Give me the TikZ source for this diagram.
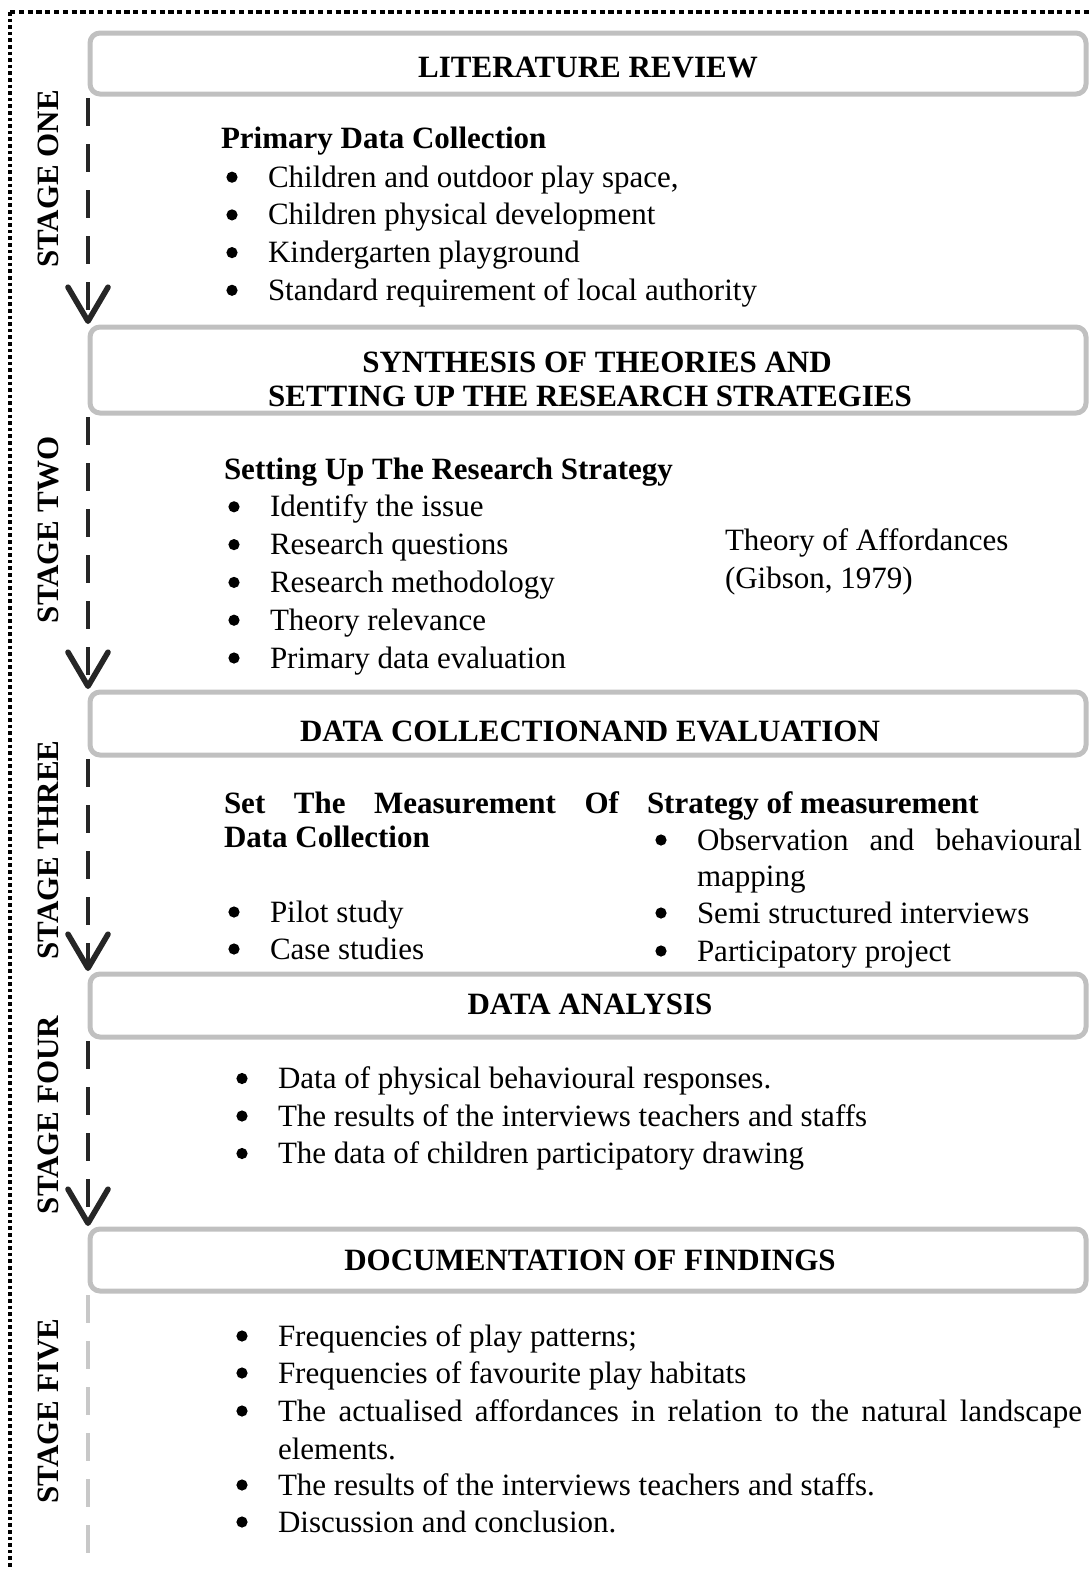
\documentclass[tikz,border=0pt]{standalone}
\usepackage{fontspec}
\setmainfont{Liberation Serif}
\usetikzlibrary{arrows.meta}

\definecolor{boxgray}{HTML}{C0C0C0}
\definecolor{linedark}{HTML}{262626}
\definecolor{linelight}{HTML}{C8C8C8}

\begin{document}
\begin{tikzpicture}[x=0.5pt, y=-0.5pt,
    every node/.style={inner sep=0pt, outer sep=0pt, font=\fontsize{15.5}{19}\selectfont},
    stagebox/.style={draw=boxgray, line width=2.5pt, rounded corners=5pt, minimum width=498pt},
    stageline/.style={draw=linedark, line width=2.2pt, dash pattern=on 14pt off 9pt,
        shorten <=2pt, shorten >=1.5pt, -{Straight Barb[length=17pt, width=20pt, line width=2.8pt, round]}},
    lastline/.style={draw=linelight, line width=2.2pt, dash pattern=on 14pt off 9pt, shorten <=2pt},
    stagelabel/.style={rotate=90, font=\fontsize{15.5}{19}\selectfont\bfseries},
    heading/.style={anchor=base, font=\fontsize{15.5}{19}\selectfont\bfseries},
    title/.style={anchor=base west, font=\fontsize{15.5}{19}\selectfont\bfseries},
    txt/.style={anchor=base west},
    dot/.style={radius=2.8pt}]

    \useasboundingbox (0,0) rectangle (1091,1570);
    \clip (0,0) rectangle (1091,1570);

    % outer frame
    \draw[line width=1.6pt, dash pattern=on 2.6pt off 1.8pt] (10,12) -- (1100,12);
    \draw[line width=1.6pt, dash pattern=on 1.8pt off 1.5pt] (10,12) -- (10,1600);

    % stage boxes
    \node[stagebox, minimum height=30.5pt] (box1) at (588,63.5) {};
    \node[stagebox, minimum height=43pt] (box2) at (588,370) {};
    \node[stagebox, minimum height=31.5pt] (box3) at (588,723.5) {};
    \node[stagebox, minimum height=31.5pt] (box4) at (588,1005.5) {};
    \node[stagebox, minimum height=31pt] (box5) at (588,1260) {};
    \coordinate (end5) at (90,1600);

    \draw[stageline] ([xshift=-1pt]box1.south west) -- ([xshift=-1pt]box2.north west);
    \draw[stageline] ([xshift=-1pt]box2.south west) -- ([xshift=-1pt]box3.north west);
    \draw[stageline] ([xshift=-1pt]box3.south west) -- ([xshift=-1pt]box4.north west);
    \draw[stageline] ([xshift=-1pt]box4.south west) -- ([xshift=-1pt]box5.north west);
    \draw[lastline] ([xshift=-1pt]box5.south west) -- ([xshift=-1pt]end5);

    % stage names
    \node[stagelabel] (lab1) at (48,179) {STAGE ONE};
    \node[stagelabel] (lab2) at (48,530) {STAGE TWO};
    \node[stagelabel] (lab3) at (48,850) {STAGE THREE};
    \node[stagelabel] (lab4) at (48,1115) {STAGE FOUR};
    \node[stagelabel] (lab5) at (48,1411) {STAGE FIVE};

    % headings
    \node[heading] (head1) at (588,77) {LITERATURE REVIEW};
    \node[heading] (head2a) at (597,372) {SYNTHESIS OF THEORIES AND};
    \node[heading] (head2b) at (590,406) {SETTING UP THE RESEARCH STRATEGIES};
    \node[heading] (head3) at (590,741) {DATA COLLECTIONAND EVALUATION};
    \node[heading] (head4) at (590,1014) {DATA ANALYSIS};
    \node[heading] (head5) at (590,1270) {DOCUMENTATION OF FINDINGS};

    % stage one
    \node[title] (t1) at (221,148) {Primary Data Collection};
    \foreach \t [count=\i] in {{Children and outdoor play space,}, Children physical development,
        Kindergarten playground, Standard requirement of local authority} {
        \fill (232,{139.5+37.7*\i}) circle[dot];
        \node[txt] (one-\i) at (268,{149.5+37.7*\i}) {\t};
    }

    % stage two
    \node[title] (t2) at (224,479) {Setting Up The Research Strategy};
    \foreach \t [count=\i] in {Identify the issue, Research questions, Research methodology,
        Theory relevance, Primary data evaluation} {
        \fill (234,{469+37.8*\i}) circle[dot];
        \node[txt] (two-\i) at (270,{479+37.8*\i}) {\t};
    }
    \node[txt] (aff1) at (725,550) {Theory of Affordances};
    \node[txt] (aff2) at (725,588) {(Gibson, 1979)};

    % stage three
    \node[title] (t3a) at (224,813) {\makebox[197.5pt][s]{Set The Measurement Of}};
    \node[title] (t3b) at (224,847) {Data Collection};
    \fill (234,912) circle[dot];
    \node[txt] (three-1) at (270,922) {Pilot study};
    \fill (234,949) circle[dot];
    \node[txt] (three-2) at (270,959) {Case studies};
    \node[title] (t3c) at (647,813) {Strategy of measurement};
    \fill (661,840) circle[dot];
    \node[txt] (meas-1) at (697,850) {\makebox[192.5pt][s]{Observation and behavioural}};
    \node[txt] (meas-1b) at (697,886) {mapping};
    \fill (661,913) circle[dot];
    \node[txt] (meas-2) at (697,923) {Semi structured interviews};
    \fill (661,951) circle[dot];
    \node[txt] (meas-3) at (697,961) {Participatory project};

    % stage four
    \foreach \t [count=\i] in {Data of physical behavioural responses.,
        The results of the interviews teachers and staffs, The data of children participatory drawing} {
        \fill (242,{1041+37.5*\i}) circle[dot];
        \node[txt] (four-\i) at (278,{1051+37.5*\i}) {\t};
    }

    % stage five
    \foreach \y in {1336,1373,1411,1485,1522}
        \fill (242,\y) circle[dot];
    \node[txt] (five-1) at (278,1346) {Frequencies of play patterns;};
    \node[txt] (five-2) at (278,1383) {Frequencies of favourite play habitats};
    \node[txt] (five-3) at (278,1421) {\makebox[402pt][s]{The actualised affordances in relation to the natural landscape}};
    \node[txt] (five-3b) at (278,1459) {elements.};
    \node[txt] (five-4) at (278,1495) {The results of the interviews teachers and staffs.};
    \node[txt] (five-5) at (278,1532) {Discussion and conclusion.};
\end{tikzpicture}
\end{document}
